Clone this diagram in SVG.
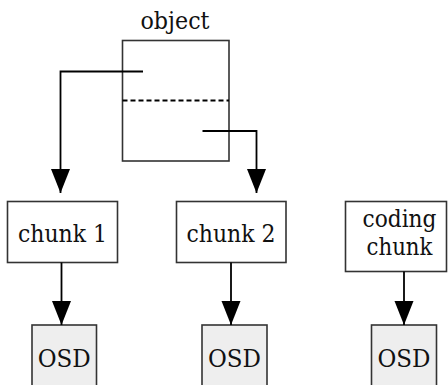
<svg xmlns="http://www.w3.org/2000/svg" width="448" height="385" viewBox="0 0 448 385">
  <style>
    .box { fill: #ffffff; stroke: #333333; stroke-width: 1.6; }
    .osd { fill: #eeeeee; stroke: #333333; stroke-width: 1.6; }
    .lbl { font-family: 'DejaVu Serif', 'Liberation Serif', 'Noto Serif', serif; font-size: 25px; fill: #111111; text-anchor: middle; }
    .wire { fill: none; stroke: #000000; stroke-width: 1.8; }
    .split { fill: none; stroke: #000000; stroke-width: 1.8; stroke-dasharray: 5 3; }
  </style>
  <defs>
    <!-- filled arrowhead, drawn along +x so orient="auto" follows the wire -->
    <marker id="arrow" markerUnits="userSpaceOnUse" markerWidth="25" markerHeight="20" refX="24" refY="10" orient="auto" viewBox="0 0 25 20">
      <path d="M0,0.5 L24,10 L0,19.5 Z" fill="#000000"/>
    </marker>
  </defs>

  <rect width="448" height="385" fill="#ffffff"/>

  <!-- object split into two halves -->
  <g id="object">
    <rect class="box" x="122.5" y="40.5" width="106.5" height="120.5"/>
    <line class="split" x1="122.5" y1="100.5" x2="229" y2="100.5"/>
    <text class="lbl" x="175" y="29" textLength="69" lengthAdjust="spacingAndGlyphs">object</text>
  </g>

  <g id="chunk1">
    <rect class="box" x="7.5" y="201.5" width="110" height="61"/>
    <text class="lbl" x="62.5" y="241.5" textLength="89" lengthAdjust="spacingAndGlyphs">chunk 1</text>
  </g>

  <g id="chunk2">
    <rect class="box" x="176.5" y="201.5" width="109.5" height="61"/>
    <text class="lbl" x="231" y="241.5" textLength="89" lengthAdjust="spacingAndGlyphs">chunk 2</text>
  </g>

  <g id="coding-chunk">
    <rect class="box" x="345.5" y="201.5" width="101" height="70"/>
    <text class="lbl" x="399.5" y="226.5" textLength="74" lengthAdjust="spacingAndGlyphs">coding</text>
    <text class="lbl" x="399.5" y="254.5" textLength="66" lengthAdjust="spacingAndGlyphs">chunk</text>
  </g>

  <g id="osd1">
    <rect class="osd" x="32" y="325" width="64.5" height="70"/>
    <text class="lbl" x="64.2" y="366.5" textLength="53" lengthAdjust="spacingAndGlyphs">OSD</text>
  </g>

  <g id="osd2">
    <rect class="osd" x="202" y="325" width="65" height="70"/>
    <text class="lbl" x="234.5" y="366.5" textLength="53" lengthAdjust="spacingAndGlyphs">OSD</text>
  </g>

  <g id="osd3">
    <rect class="osd" x="371.5" y="325" width="65" height="70"/>
    <text class="lbl" x="404" y="366.5" textLength="53" lengthAdjust="spacingAndGlyphs">OSD</text>
  </g>

  <g id="connectors">
    <polyline class="wire" points="143,71.5 60.5,71.5 60.5,193" marker-end="url(#arrow)"/>
    <polyline class="wire" points="202.5,131 256.5,131 256.5,193" marker-end="url(#arrow)"/>
    <line class="wire" x1="61.5" y1="262.5" x2="61.5" y2="325" marker-end="url(#arrow)"/>
    <line class="wire" x1="231" y1="262.5" x2="231" y2="325" marker-end="url(#arrow)"/>
    <line class="wire" x1="404" y1="271.5" x2="404" y2="325" marker-end="url(#arrow)"/>
  </g>
</svg>
